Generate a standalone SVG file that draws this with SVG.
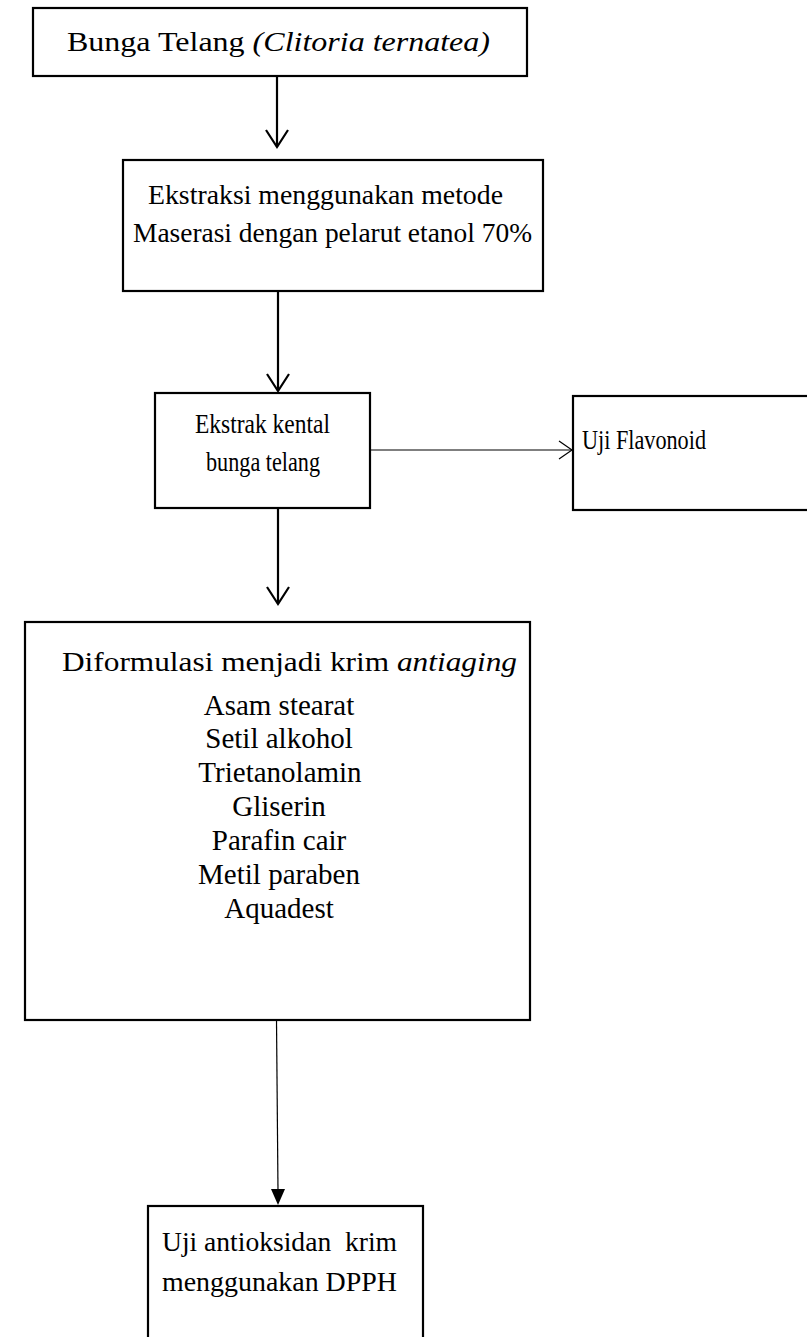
<svg xmlns="http://www.w3.org/2000/svg" width="807" height="1337" viewBox="0 0 807 1337">
<style>
.box{fill:#fff;stroke:#000;stroke-width:2.2}
.t{font-family:"Liberation Serif","Times New Roman",serif;font-size:28px;fill:#000}
.m{text-anchor:middle;font-size:29px}
.c{stroke:#000;fill:none;stroke-width:2.2}
.thin{stroke:#000;fill:none;stroke-width:1.2}
</style>
<rect width="807" height="1337" fill="#fff"/>
<g id="connectors">
<line class="c" x1="277" y1="76" x2="277" y2="147"/>
<path class="c" d="M266,130 L277,147 L288,130"/>
<line class="c" x1="278" y1="291" x2="278" y2="391"/>
<path class="c" d="M267,374 L278,391 L289,374"/>
<line class="thin" x1="370" y1="450" x2="572" y2="450"/>
<path class="thin" d="M559,441 L572,450 L559,459"/>
<line class="c" x1="278" y1="508" x2="278" y2="604"/>
<path class="c" d="M267,587 L278,604 L289,587"/>
<line class="thin" x1="276.5" y1="1020" x2="278" y2="1192"/>
<path d="M271,1189 L285,1189 L278,1205 Z" fill="#000"/>
</g>
<g id="n1">
<rect class="box" x="33" y="8" width="494" height="68"/>
<text class="t" x="67" y="51" font-size="31" textLength="423" lengthAdjust="spacingAndGlyphs">Bunga Telang <tspan font-style="italic">(Clitoria ternatea)</tspan></text>
</g>
<g id="n2">
<rect class="box" x="123" y="160" width="420" height="131"/>
<text class="t" x="148" y="204" textLength="355" lengthAdjust="spacingAndGlyphs">Ekstraksi menggunakan metode</text>
<text class="t" x="133" y="242" textLength="399" lengthAdjust="spacingAndGlyphs">Maserasi dengan pelarut etanol 70%</text>
</g>
<g id="n3">
<rect class="box" x="155" y="393" width="215" height="115"/>
<text class="t" x="195" y="433" font-size="26" textLength="135" lengthAdjust="spacingAndGlyphs">Ekstrak kental</text>
<text class="t" x="206" y="471" font-size="26" textLength="114" lengthAdjust="spacingAndGlyphs">bunga telang</text>
</g>
<g id="n4">
<rect class="box" x="573" y="396" width="240" height="114"/>
<text class="t" x="582" y="449" font-size="26" textLength="124" lengthAdjust="spacingAndGlyphs">Uji Flavonoid</text>
</g>
<g id="n5">
<rect class="box" x="25" y="622" width="505" height="398"/>
<text class="t" x="62" y="671" font-size="31" textLength="455" lengthAdjust="spacingAndGlyphs">Diformulasi menjadi krim <tspan font-style="italic">antiaging</tspan></text>
<text class="t m" x="279" y="715">Asam stearat</text>
<text class="t m" x="279" y="748">Setil alkohol</text>
<text class="t m" x="280" y="782">Trietanolamin</text>
<text class="t m" x="279" y="816">Gliserin</text>
<text class="t m" x="279" y="850">Parafin cair</text>
<text class="t m" x="279" y="884">Metil paraben</text>
<text class="t m" x="279" y="918">Aquadest</text>
</g>
<g id="n6">
<rect class="box" x="148" y="1206" width="275" height="145"/>
<text class="t" x="162" y="1251" xml:space="preserve" textLength="235" lengthAdjust="spacingAndGlyphs">Uji antioksidan  krim</text>
<text class="t" x="162" y="1291" textLength="235" lengthAdjust="spacingAndGlyphs">menggunakan DPPH</text>
</g>
</svg>
